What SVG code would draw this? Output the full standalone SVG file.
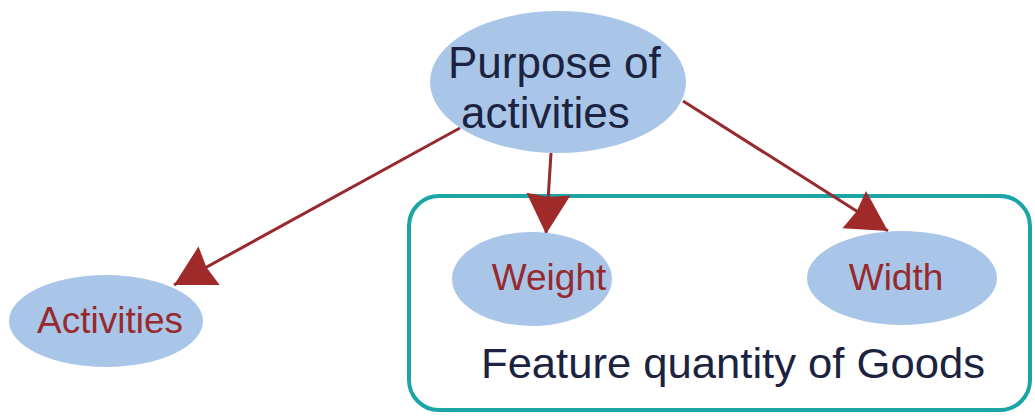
<svg xmlns="http://www.w3.org/2000/svg" width="1035" height="416" viewBox="0 0 1035 416">
  <style>
    .node { fill: #a9c6e8; stroke: none; }
    .label { font-family: "Liberation Sans", Arial, sans-serif; font-size: 37px; fill: #962a2e; text-anchor: middle; }
    .title { font-family: "Liberation Sans", Arial, sans-serif; font-size: 44px; fill: #1c2340; }
    .group-box { fill: none; stroke: #1ba5a6; stroke-width: 4; }
    .group-label { font-family: "Liberation Sans", Arial, sans-serif; font-size: 42px; fill: #1c2340; text-anchor: middle; }
    .edge { stroke: #962a2e; stroke-width: 3; fill: none; }
  </style>
  <defs>
    <marker id="arrow" markerUnits="userSpaceOnUse" markerWidth="50" markerHeight="50" viewBox="-2 -25 46 50" refX="40" refY="0" orient="auto">
      <path d="M0,-22 L40,0 L0,22 L3,0 z" fill="#a02a2a"/>
    </marker>
  </defs>

  <rect width="1035" height="416" fill="#ffffff"/>

  <!-- cluster: feature quantity of goods -->
  <g id="cluster-goods">
    <rect class="group-box" x="409" y="196" width="621" height="214" rx="30" ry="30"/>
    <text class="group-label" x="733" y="378" textLength="504" lengthAdjust="spacingAndGlyphs">Feature quantity of Goods</text>
  </g>

  <!-- connectors -->
  <g id="edges">
    <line class="edge" x1="460" y1="128" x2="174" y2="285" marker-end="url(#arrow)"/>
    <line class="edge" x1="551" y1="153" x2="546" y2="234" marker-end="url(#arrow)"/>
    <line class="edge" x1="683" y1="101" x2="888" y2="231" marker-end="url(#arrow)"/>
  </g>

  <g id="node-purpose">
    <ellipse class="node" cx="558" cy="82" rx="128" ry="71"/>
    <text class="title" x="448" y="78">Purpose of</text>
    <text class="title" x="461" y="128">activities</text>
  </g>

  <g id="node-activities">
    <ellipse class="node" cx="106" cy="321" rx="97" ry="46"/>
    <text class="label" x="110" y="333">Activities</text>
  </g>

  <g id="node-weight">
    <ellipse class="node" cx="532" cy="279" rx="80" ry="47"/>
    <text class="label" x="549" y="290">Weight</text>
  </g>

  <g id="node-width">
    <ellipse class="node" cx="902" cy="278" rx="95" ry="47"/>
    <text class="label" x="896" y="290">Width</text>
  </g>
</svg>
